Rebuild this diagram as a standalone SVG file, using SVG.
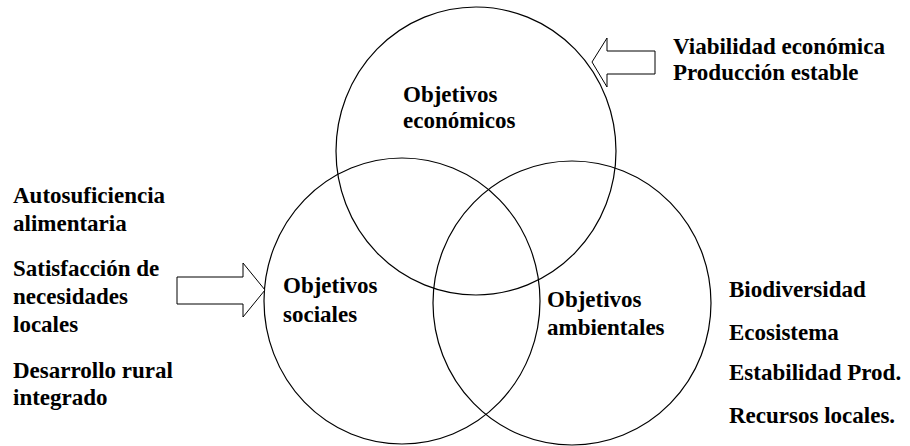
<svg xmlns="http://www.w3.org/2000/svg" width="910" height="446" viewBox="0 0 910 446">
<style>
.c{fill:none;stroke:#000;stroke-width:1.2}
.a{fill:#fff;stroke:#000;stroke-width:1}
text{font-family:"Liberation Serif","Times New Roman",serif;font-weight:bold;font-size:23px;fill:#000}
</style>
<rect width="910" height="446" fill="#fff"/>
<g id="economicos">
<ellipse class="c" cx="476" cy="151" rx="140" ry="144"/>
<text x="403" y="102">Objetivos</text>
<text x="403" y="128">económicos</text>
</g>
<g id="sociales">
<ellipse class="c" cx="402" cy="301" rx="138" ry="143"/>
<text x="283" y="293">Objetivos</text>
<text x="283" y="322">sociales</text>
</g>
<g id="ambientales">
<ellipse class="c" cx="572" cy="303" rx="139" ry="142"/>
<text x="547" y="307">Objetivos</text>
<text x="547" y="335">ambientales</text>
</g>
<g id="connectors">
<polygon class="a" points="655,51 607,51 607,38 592,62 607,87 607,74 655,74"/>
<polygon class="a" points="177,277 243,277 243,263 265,290 243,317 243,304 177,304"/>
</g>
<g id="econ-list">
<text x="673" y="54">Viabilidad económica</text>
<text x="673" y="80">Producción estable</text>
</g>
<g id="social-list">
<text x="13" y="203">Autosuficiencia</text>
<text x="13" y="231">alimentaria</text>
<text x="13" y="276">Satisfacción de</text>
<text x="13" y="304">necesidades</text>
<text x="13" y="332">locales</text>
<text x="13" y="378">Desarrollo rural</text>
<text x="13" y="405">integrado</text>
</g>
<g id="amb-list">
<text x="729" y="297">Biodiversidad</text>
<text x="729" y="340">Ecosistema</text>
<text x="729" y="380">Estabilidad Prod.</text>
<text x="729" y="423">Recursos locales.</text>
</g>
</svg>
